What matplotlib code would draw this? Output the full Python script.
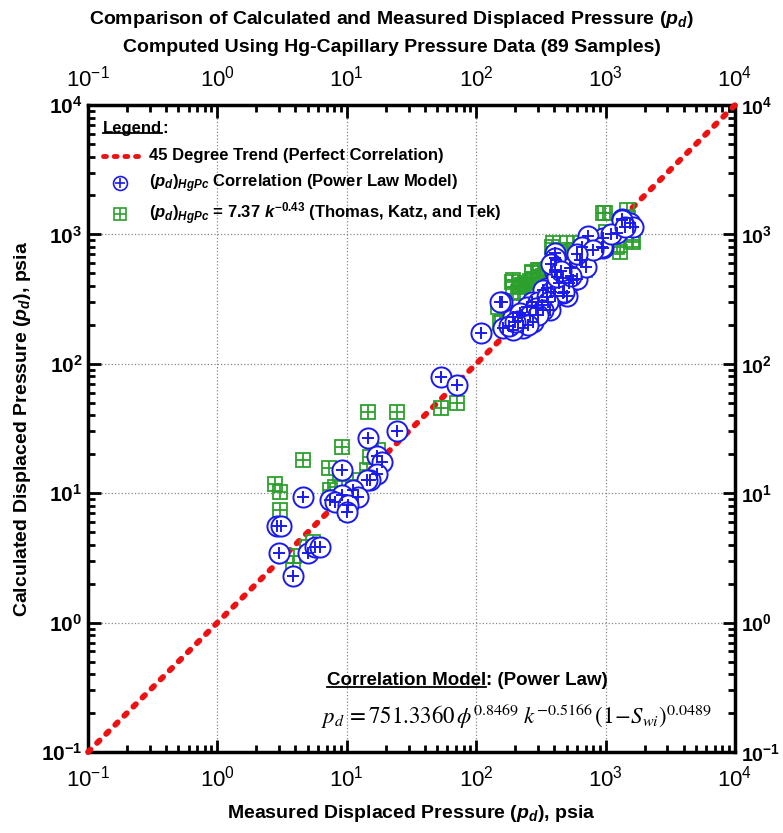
import numpy as np
import matplotlib
matplotlib.use("Agg")
import matplotlib.pyplot as plt
from matplotlib.lines import Line2D

plt.rcParams['font.family'] = ['Liberation Sans', 'DejaVu Sans']
plt.rcParams['mathtext.fontset'] = 'custom'
plt.rcParams['mathtext.rm'] = 'Liberation Sans:bold'
plt.rcParams['mathtext.bf'] = 'Liberation Sans:bold'
plt.rcParams['mathtext.it'] = 'Liberation Sans:italic:bold'

# (pd)HgPc correlation, power law model: measured vs calculated
hgpc_meas = [24.3, 14.6, 17.0, 18.6, 17.0, 15.1, 14.3, 9.1, 11.2, 12.3, 9.1, 7.4, 8.1, 10.3, 10.0,
             4.56, 2.87, 3.1, 3.01, 5.05, 5.68, 6.2, 3.87,
             53.4, 71.0,
             1331, 1545, 1637, 1216, 959, 735, 959, 653, 653, 406, 417, 406, 531, 564, 471,
             350, 331, 406, 500, 321, 372, 268, 246, 225, 276, 194, 157, 162, 231, 194, 108,
             1331, 931, 406, 634, 406, 153, 218,
             440, 380, 300, 350, 520, 470, 290, 260, 210, 600, 700, 800, 1100, 1400,
             480, 360, 330, 300, 250, 180, 200, 420, 540, 600, 380, 450]
hgpc_calc = [30.3, 26.8, 19.5, 17.5, 14.2, 12.6, 12.6, 15.1, 10.6, 9.4, 9.7, 8.85, 8.5, 8.1, 7.2,
             9.4, 5.58, 5.58, 3.43, 3.43, 3.86, 3.86, 2.29,
             79.0, 68.5,
             1309, 1219, 1148, 1031, 933, 973, 780, 795, 634, 714, 634, 531, 547, 445, 458,
             383, 372, 334, 334, 285, 261, 302, 276, 238, 212, 231, 302, 188, 188, 182, 174,
             1290, 803, 653, 634, 513, 298, 245,
             420, 360, 300, 330, 420, 350, 270, 240, 215, 450, 560, 760, 1000, 1150,
             360, 300, 260, 240, 200, 195, 210, 470, 480, 700, 590, 520]

# (pd)HgPc = 7.37 k^-0.43 (Thomas, Katz and Tek)
tkt_meas = [14.6, 24.3, 9.1, 4.56, 7.3, 8.8, 15.1, 17.5, 14.3, 17.0, 11.2, 8.1, 2.8, 3.05, 3.05,
            10.0, 5.5, 4.9, 3.87, 3.9, 7.4,
            53.4, 71.0,
            989, 1455, 1590, 1620, 1290, 713, 803, 564, 445, 394, 500, 634, 311, 268, 194, 225,
            246, 194, 693, 212, 148, 182, 157, 959, 1637, 1216, 188, 231, 268, 300, 218, 383,
            445, 500, 550, 600, 153,
            350, 420, 480, 520, 280, 330, 380, 620, 700, 750, 900, 1100, 1300, 240,
            260, 310, 360, 400, 460, 560, 680, 820, 1000, 1400, 1500, 580]
tkt_calc = [42.6, 42.6, 22.9, 18.1, 15.6, 14.1, 19.2, 21.4, 15.1, 14.1, 12.6, 11.1, 11.8, 10.3, 7.4,
            7.0, 4.2, 3.86, 2.9, 3.3, 10.5,
            45.5, 49.8,
            1455, 1545, 906, 1075, 731, 780, 735, 693, 731, 855, 855, 855, 531, 513, 445, 406,
            394, 394, 531, 361, 276, 212, 212, 1455, 877, 803, 431, 406, 500, 531, 350, 803,
            731, 731, 700, 650, 205,
            520, 600, 620, 640, 450, 480, 560, 700, 760, 800, 850, 950, 1000, 420,
            440, 470, 540, 600, 660, 760, 820, 900, 1050, 1300, 1350, 620]

trend = [0.1, 1e4]

blue = '#1a1aee'
green = '#2ca02c'

fig = plt.figure(figsize=(7.83, 8.33), dpi=100)
ax = fig.add_axes([0.1124, 0.0972, 0.8263, 0.7767])
ax.set_xscale('log')
ax.set_yscale('log')
ax.set_xlim(0.1, 1e4)
ax.set_ylim(0.1, 1e4)

ax.grid(True, which='major', linestyle=':', color='#888888', linewidth=0.9)

ax.plot(trend, trend, linestyle=(0, (0.6, 1.6)), color='#ee1111', linewidth=4.2,
        dash_capstyle='round', zorder=3, clip_on=False)

# squares with grid
ax.plot(tkt_meas, tkt_calc, 's', mfc='none', mec=green, ms=10, mew=1.3, zorder=4)
ax.plot(tkt_meas, tkt_calc, '+', color=green, ms=10, mew=1.3, zorder=4)
# circles with plus
ax.plot(hgpc_meas, hgpc_calc, 'o', mfc='white', mec=blue, ms=14.5, mew=1.4, zorder=5)
ax.plot(hgpc_meas, hgpc_calc, '+', color=blue, ms=9, mew=1.4, zorder=5)

for s in ax.spines.values():
    s.set_linewidth(2.5)

ax.tick_params(which='both', direction='in', top=True, right=True,
               labeltop=True, labelright=True, width=2)
ax.tick_params(which='major', length=9)
ax.tick_params(which='minor', length=5)
ax.tick_params(axis='x', labelsize=16, pad=10)
ax.tick_params(axis='y', labelsize=15, pad=6)
ax.tick_params(axis='y', which='both', labelright=True)
for lab in ax.get_yticklabels():
    lab.set_fontweight('bold')
for lab in ax.yaxis.get_ticklabels(which='major'):
    lab.set_fontweight('bold')
for t in ax.yaxis.get_major_ticks():
    t.label2.set_fontweight('bold')
    t.label2.set_fontsize(14)
    t.set_pad(4)

ax.set_xlabel(r'Measured Displaced Pressure ($p_d$), psia', fontsize=14,
              fontweight='bold', labelpad=8)
ax.set_ylabel(r'Calculated Displaced Pressure ($p_d$), psia', fontsize=14,
              fontweight='bold', labelpad=6)

fig.text(0.5, 0.976, r'Comparison of Calculated and Measured Displaced Pressure ($p_d$)',
         ha='center', va='center', fontsize=14, fontweight='bold')
fig.text(0.5, 0.943, 'Computed Using Hg-Capillary Pressure Data (89 Samples)',
         ha='center', va='center', fontsize=14, fontweight='bold')

# legend drawn by hand
fs = 12
t_leg = ax.text(0.023, 0.964, 'Legend', transform=ax.transAxes, fontsize=fs,
                fontweight='bold', va='center', ha='left')
ax.add_line(Line2D([0.023, 0.083], [0.922, 0.922], transform=ax.transAxes,
                   linestyle=(0, (0.6, 1.6)), color='#ee1111', linewidth=3.5,
                   dash_capstyle='round'))
ax.text(0.095, 0.922, '45 Degree Trend (Perfect Correlation)', transform=ax.transAxes,
        fontsize=fs, fontweight='bold', va='center')
ax.plot([0.05], [0.879], 'o', transform=ax.transAxes, mfc='none', mec=blue, ms=10, mew=1.2)
ax.plot([0.05], [0.879], '+', transform=ax.transAxes, color=blue, ms=6.5, mew=1.2)
ax.text(0.095, 0.879, r'$(p_d)_{HgPc}$ Correlation (Power Law Model)', transform=ax.transAxes,
        fontsize=fs, fontweight='bold', va='center')
ax.plot([0.05], [0.832], 's', transform=ax.transAxes, mfc='none', mec=green, ms=8, mew=1.2)
ax.plot([0.05], [0.832], '+', transform=ax.transAxes, color=green, ms=8, mew=1.2)
ax.text(0.095, 0.832, r'$(p_d)_{HgPc}$ = 7.37 $k^{\mathrm{-0.43}}$ (Thomas, Katz, and Tek)',
        transform=ax.transAxes, fontsize=fs, fontweight='bold', va='center')

# correlation model box
fs2 = 13.5
t_cm = ax.text(0.369, 0.11, 'Correlation Model', transform=ax.transAxes, fontsize=fs2,
               fontweight='bold', va='center', ha='left')

fig.canvas.draw()
inv = ax.transAxes.inverted()


def after(t, s, size):
    bb = t.get_window_extent()
    (x0, y0), (x1, y1) = inv.transform([[bb.x0, bb.y0], [bb.x1, bb.y1]])
    ax.add_line(Line2D([x0, x1], [y0 + 0.004, y0 + 0.004], transform=ax.transAxes,
                       color='black', linewidth=1.3))
    ax.text(x1, t.get_position()[1], s, transform=ax.transAxes, fontsize=size,
            fontweight='bold', va='center', ha='left')


after(t_leg, ':', fs)
after(t_cm, ': (Power Law)', fs2)

ax.text(0.36, 0.056,
        r'$p_d\, = 751.3360\,\phi^{0.8469}\;k^{\mathrm{-0.5166}}\,(1\!-\!S_{wi})^{0.0489}$',
        transform=ax.transAxes, fontsize=16.5, va='center', ha='left', math_fontfamily='stix')

fig.savefig('out.png', dpi=100)
